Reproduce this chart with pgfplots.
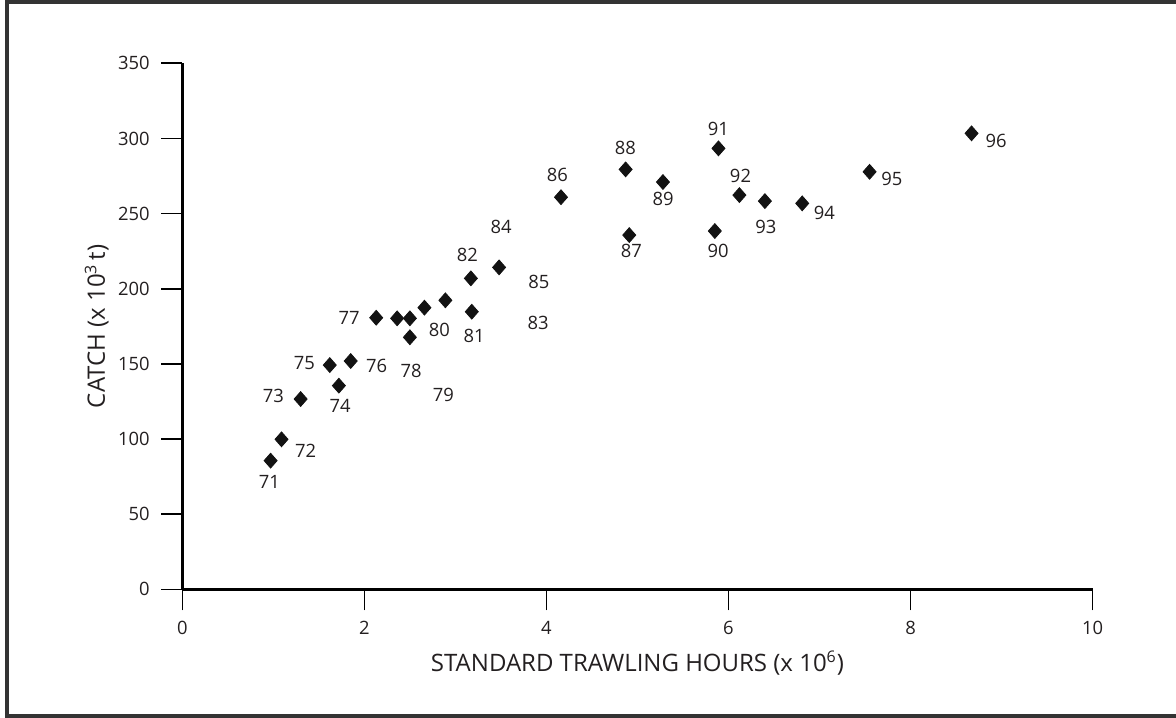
\documentclass[border=0pt]{standalone}
\usepackage{fontspec}
\setmainfont{Open Sans}
\usepackage{pgfplots}
\pgfplotsset{compat=1.18}
\definecolor{txt}{HTML}{231F20}
\definecolor{frame}{HTML}{333333}
\begin{document}
\begin{tikzpicture}[x=1pt,y=1pt]
\useasboundingbox (0,0) rectangle (588,358.5);
\draw[line width=2pt, frame] (3.5,0.75) rectangle (600,357.5);
\begin{axis}[
  at={(91.15pt,63.85pt)}, anchor=south west,
  scale only axis, width=455.15pt, height=263pt,
  xmin=0, xmax=10, ymin=0, ymax=350,
  axis x line=bottom, axis y line=left,
  axis line style={-, line width=1.6pt, black},
  xtick={0,2,4,6,8,10}, ytick={0,50,100,150,200,250,300,350},
  tick align=outside, major tick length=10.5pt,
  tick style={line width=0.8pt, black},
  /pgf/number format/assume math mode=true,
  ticklabel style={font=\fontsize{9.2}{10}\selectfont, text=txt},
  xticklabel style={yshift=-1.75pt},
  yticklabel style={xshift=-2.3pt},
  xlabel={STANDARD TRAWLING HOURS (x 10\textsuperscript{6})},
  ylabel={CATCH (x 10\textsuperscript{3}\,t)},
  label style={font=\fontsize{12}{14}\selectfont, text=txt},
  x label style={at={(axis description cs:0.5,-0.140)}, anchor=center},
  y label style={at={(axis description cs:-0.094,0.5)}, anchor=center},
  clip=false,
]
\addplot[only marks, mark=diamond*, mark size=3.7pt, mark options={xscale=1.17}, color=black!93] coordinates {
  (0.97,85.6) (1.09,99.8) (1.30,126.6) (1.72,135.5) (1.62,149.2) (1.85,151.9)
  (2.13,180.7) (2.36,180.3) (2.50,180.3) (2.50,167.7) (2.66,187.4) (2.89,192.3)
  (3.17,206.9) (3.18,184.7) (3.48,214.2) (4.16,260.9) (4.91,235.7) (4.87,279.4)
  (5.28,271.0) (5.85,238.4) (5.89,293.4) (6.12,262.3) (6.40,258.3) (6.81,256.8)
  (7.55,277.8) (8.67,303.4)
};
\begin{scope}[every node/.style={font=\fontsize{9.2}{10}\selectfont, text=txt, inner sep=0pt, anchor=center}]
\node at (axis cs:0.956,71.6) {71};
\node at (axis cs:1.356,92.2) {72};
\node at (axis cs:1.000,128.8) {73};
\node at (axis cs:1.733,122.2) {74};
\node at (axis cs:1.341,150.4) {75};
\node at (axis cs:2.136,148.6) {76};
\node at (axis cs:1.832,180.7) {77};
\node at (axis cs:2.513,145.2) {78};
\node at (axis cs:2.868,129.3) {79};
\node at (axis cs:2.824,172.3) {80};
\node at (axis cs:3.205,168.9) {81};
\node at (axis cs:3.132,222.2) {82};
\node at (axis cs:3.908,177.4) {83};
\node at (axis cs:3.502,241.3) {84};
\node at (axis cs:3.916,204.5) {85};
\node at (axis cs:4.121,275.6) {86};
\node at (axis cs:4.934,225.3) {87};
\node at (axis cs:4.868,293.4) {88};
\node at (axis cs:5.282,259.5) {89};
\node at (axis cs:5.887,225.3) {90};
\node at (axis cs:5.890,306.1) {91};
\node at (axis cs:6.132,275.0) {92};
\node at (axis cs:6.411,241.3) {93};
\node at (axis cs:7.053,250.2) {94};
\node at (axis cs:7.795,272.8) {95};
\node at (axis cs:8.940,298.5) {96};
\end{scope}
\end{axis}
\end{tikzpicture}
\end{document}
